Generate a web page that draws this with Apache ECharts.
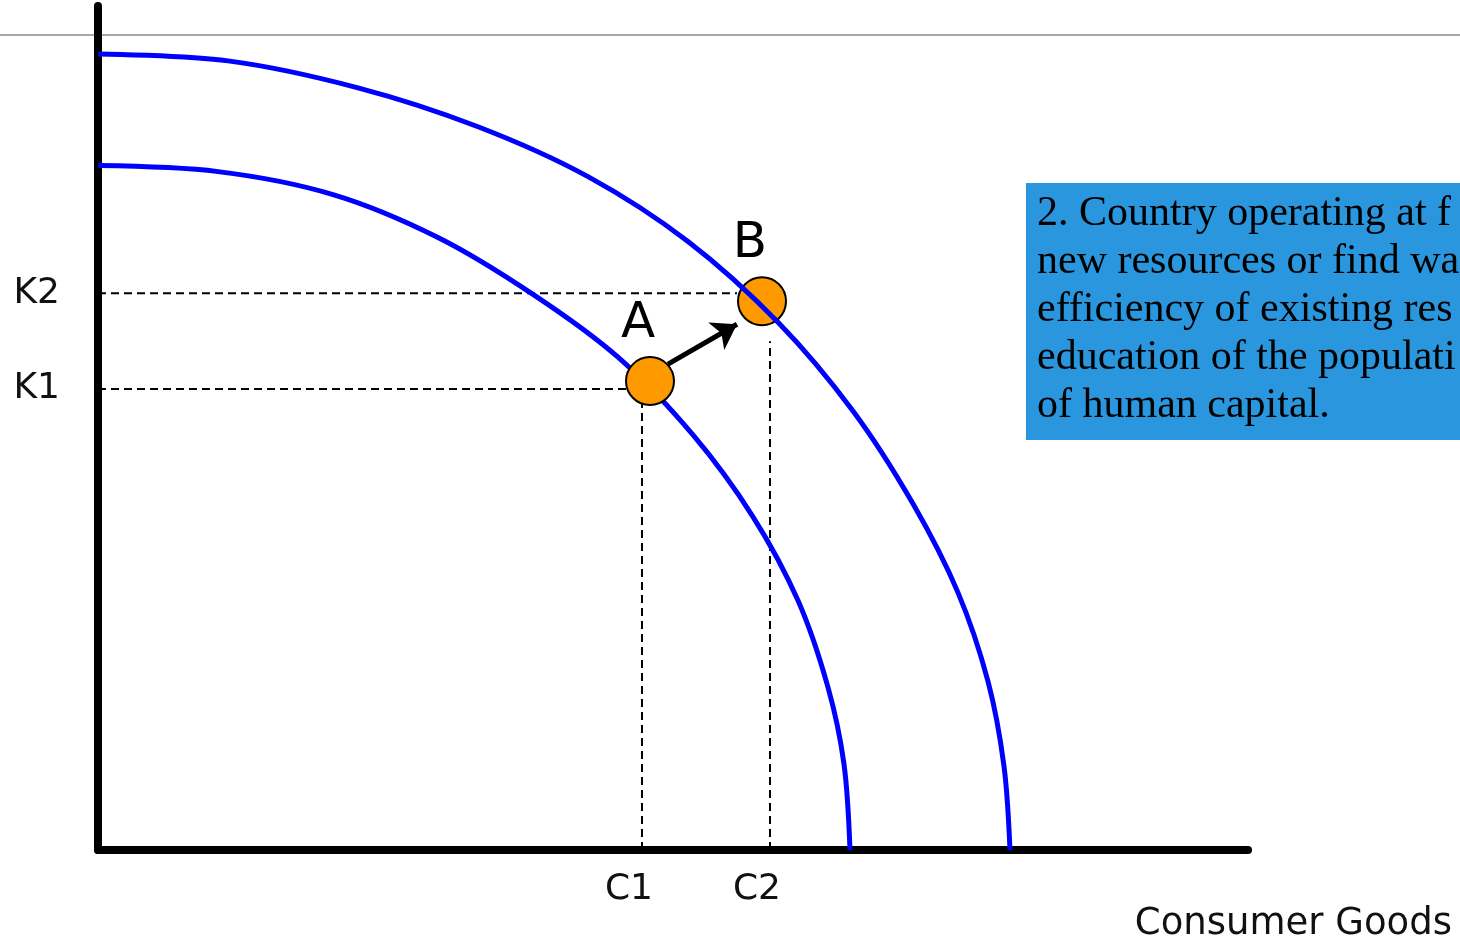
<!DOCTYPE html>
<html>
<head>
<meta charset="utf-8">
<script src="https://cdn.jsdelivr.net/npm/echarts@6/dist/echarts.min.js"></script>
<style>
  html, body { margin: 0; padding: 0; background: #fff; }
  #chart { width: 1460px; height: 943px; }
</style>
</head>
<body>
<div id="chart"></div>
<script>
// PPF curves (x = consumer goods, y = capital goods)
const innerPPF = [
  [0, 686], [120, 680], [235, 657], [340, 614], [435, 557], [520, 494],
  [595, 416], [655, 334], [700, 250], [730, 163], [746, 86], [752, 0]
]
const outerPPF = [
  [0, 798], [130, 791], [260, 764], [380, 725], [490, 675], [590, 610],
  [680, 529], [755, 440], [815, 347], [860, 258], [890, 169], [906, 84],
  [912, 0]
]
const pointNames = ['A', 'B']
const points = [[552, 470], [664, 550]]
const arrowFrom = [570, 487]
const arrowTo = [639, 527]

const kLabels = ['K1', 'K2']
const kValues = [462, 558]
const kLineEnds = [529, 639]
const cLabels = ['C1', 'C2']
const cValues = [544, 672]
const cLineTops = [447, 510]

const boxLines = [
  '2. Country operating at f',
  'new resources or find wa',
  'efficiency of existing res',
  'education of the populati',
  'of human capital.'
]

const font = 'DejaVu Sans'
const dashStyle = { color: '#000', width: 2, type: [8, 5] }

let myChart = echarts.init(document.getElementById('chart'))

let dashed = []
kValues.forEach((k, i) => {
  dashed.push({ type: 'line', z: 1, symbol: 'none', silent: true,
    data: [[0, k], [kLineEnds[i], k]], lineStyle: dashStyle })
})
cValues.forEach((c, i) => {
  dashed.push({ type: 'line', z: 1, symbol: 'none', silent: true,
    data: [[c, 0], [c, cLineTops[i]]], lineStyle: dashStyle })
})

myChart.setOption({
  animation: false,
  backgroundColor: '#fff',
  grid: { left: 98, top: 6, width: 1150, height: 846 },
  xAxis: {
    type: 'value', min: 0, max: 1150,
    axisLine: { lineStyle: { color: '#000', width: 8 } },
    axisTick: { show: false },
    splitLine: { show: false },
    axisLabel: {
      customValues: cValues,
      formatter: (v) => cLabels[cValues.indexOf(v)],
      fontFamily: font, fontSize: 36, color: '#111',
      margin: 22, padding: [0, 26, 0, 0]
    },
    name: 'Consumer Goods',
    nameLocation: 'end',
    nameGap: 204,
    nameTextStyle: {
      fontFamily: font, fontSize: 37, color: '#111',
      align: 'right', verticalAlign: 'top', padding: [56, 0, 0, 0]
    }
  },
  yAxis: {
    type: 'value', min: 0, max: 846,
    axisLine: { lineStyle: { color: '#000', width: 8 } },
    axisTick: { show: false },
    splitLine: { show: false },
    axisLabel: {
      customValues: kValues,
      formatter: (v) => kLabels[kValues.indexOf(v)],
      fontFamily: font, fontSize: 36, color: '#111', margin: 38
    }
  },
  graphic: [
    { type: 'line', shape: { x1: 0, y1: 35, x2: 1460, y2: 35 },
      style: { stroke: '#a8a8a8', lineWidth: 2 }, z: 0 },
    { type: 'rect', shape: { x: 1026, y: 183, width: 440, height: 257 },
      style: { fill: '#2996de' }, z: 10 },
    { type: 'text', x: 1037, y: 190, z: 11,
      style: { text: boxLines.join('\n'), fill: '#000',
        font: '42px "Liberation Serif"', lineHeight: 48 } }
  ],
  series: [
    ...dashed,
    { type: 'line', name: 'PPF1', z: 2, smooth: 0.33, symbol: 'none',
      data: innerPPF, lineStyle: { color: '#0000ff', width: 5 } },
    { type: 'lines', coordinateSystem: 'cartesian2d', z: 3,
      symbol: ['none', 'arrow'], symbolSize: 24,
      data: [{ coords: [arrowFrom, arrowTo] }],
      lineStyle: { color: '#000', width: 5, opacity: 1 } },
    { type: 'scatter', z: 3, symbolSize: 48,
      data: points.map((p, i) => ({ value: p, name: pointNames[i] })),
      itemStyle: { color: '#ff9900', borderColor: '#000', borderWidth: 2, opacity: 1 },
      label: { show: true, position: 'inside', offset: [-12, -57],
        formatter: '{b}', fontFamily: font, fontSize: 50, color: '#000' } },
    { type: 'line', name: 'PPF2', z: 4, smooth: 0.33, symbol: 'none',
      data: outerPPF, lineStyle: { color: '#0000ff', width: 5 } }
  ]
})
</script>
</body>
</html>
